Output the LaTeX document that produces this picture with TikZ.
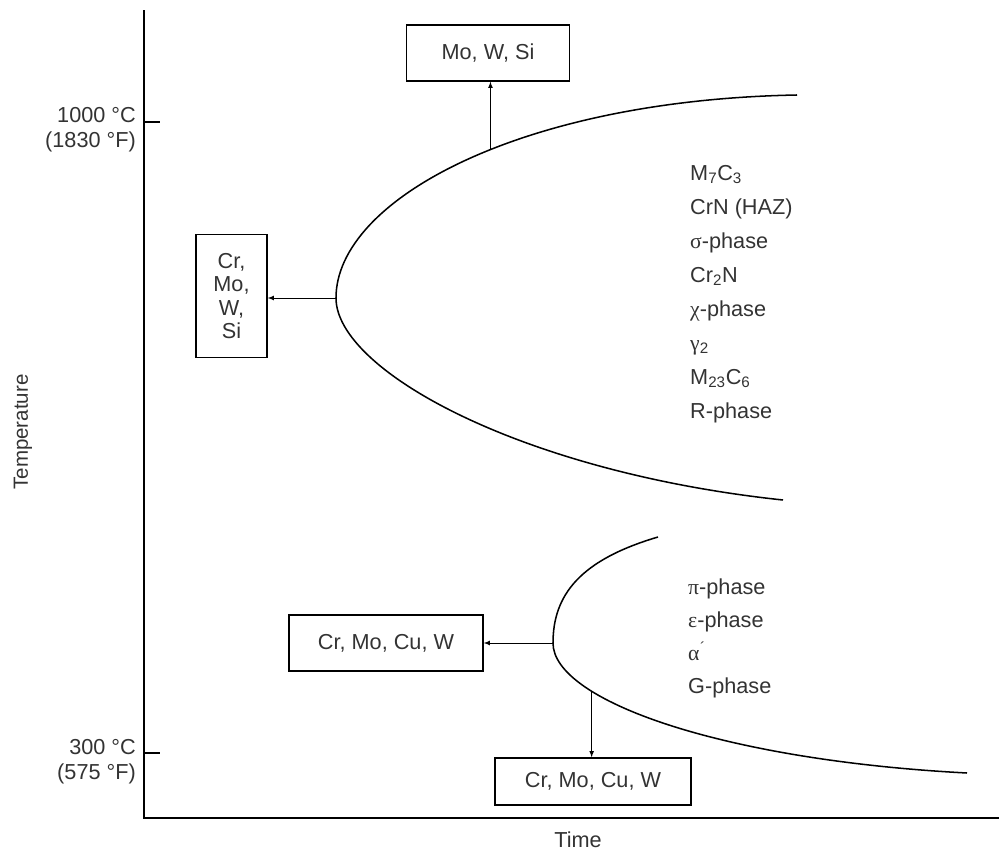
\documentclass[tikz,border=0pt]{standalone}
\usepackage{fontspec}
\setmainfont{Liberation Sans}
\newfontfamily\grkfont{Liberation Serif}
\newcommand{\grk}[1]{{\grkfont #1}}
\colorlet{ink}{black!80}
\begin{document}
\begin{tikzpicture}[x=0.3mm,y=-0.3mm]
\tikzstyle{arrow}=[draw,-latex,line width=0.8pt]
\tikzstyle{axis}=[draw,line width=1.6pt]
\tikzstyle{curve}=[draw,line width=1.3pt]
\tikzstyle{elembox}=[draw,line width=1.2pt,inner sep=0pt,align=center,text=ink]
\tikzstyle{phase}=[anchor=base west,inner sep=0pt,text=ink]
\tikzstyle{label}=[inner sep=0pt,text=ink]
\fontsize{18.5}{19.8}\selectfont
\useasboundingbox (0,0) rectangle (999,852);
% axes and ticks
\coordinate (ytop) at (144,10);
\coordinate (origin) at (144,818);
\coordinate (xend) at (999,818);
\path[axis] (ytop)--(origin)--(xend);
\coordinate (thigh) at (144,122);
\coordinate (tlow) at (144,753);
\path[draw,line width=1pt] (thigh)--++(16,0);
\path[draw,line width=1pt] (tlow)--++(16,0);
\node[label,anchor=east,align=right,font=\fontsize{18.5}{21.3}\selectfont] (labhigh) at (136,130) {1000 °C\\(1830 °F)};
\node[label,anchor=east,align=right,font=\fontsize{18.5}{21.3}\selectfont] (lablow) at (136,762) {300 °C\\(575 °F)};
\node[label,rotate=90,font=\fontsize{17.5}{20}\selectfont] (templab) at (23,432) {Temperature};
\node[label] (timelab) at (578,840) {Time};
% upper nose
\coordinate (utip) at (336,298);
\path[curve] (797,95)..controls(520,100)and(336,200)..(utip)coordinate[pos=0.445](ucross)
  ..controls(336,370)and(520,472)..(783,500);
% lower nose
\coordinate (ltip) at (553,643);
\path[curve] (658,537)..controls(580,560)and(553,595)..(ltip)
  ..controls(553,700)and(720,760)..(967,773)coordinate[pos=0.285](lcross);
% element boxes
\node[elembox,minimum width=48.9mm,minimum height=16.8mm] (mowsi) at (488,53) {Mo, W, Si};
\node[elembox,minimum width=21.3mm,minimum height=36.9mm] (crmowsi) at (231.5,296) {Cr,\\Mo,\\W,\\Si};
\node[elembox,minimum width=58.2mm,minimum height=16.8mm] (crmocuw) at (386,643) {Cr, Mo, Cu, W};
\node[elembox,minimum width=58.8mm,minimum height=14.1mm] (crmocuwb) at (593,781.5) {Cr, Mo, Cu, W};
\path[arrow] (ucross)--(ucross|-mowsi.south);
\path[arrow] (utip)--(utip-|crmowsi.east);
\path[arrow] (ltip)--(ltip-|crmocuw.east);
\path[arrow] (lcross)--(lcross|-crmocuwb.north);
% precipitates
\foreach \ph [count=\i] in {M\textsubscript{7}C\textsubscript{3},CrN (HAZ),\grk{σ}-phase,Cr\textsubscript{2}N,\grk{χ}-phase,\grk{γ}\textsubscript{2},M\textsubscript{23}C\textsubscript{6},R-phase}
  \node[phase] (hi\i) at (690,180+34*\i-34) {\ph};
\foreach \ph [count=\i] in {\grk{π}-phase,\grk{ε}-phase,\grk{α}\textsuperscript{\grk{´}},G-phase}
  \node[phase] (lo\i) at (688,594+33*\i-33) {\ph};
\end{tikzpicture}
\end{document}
